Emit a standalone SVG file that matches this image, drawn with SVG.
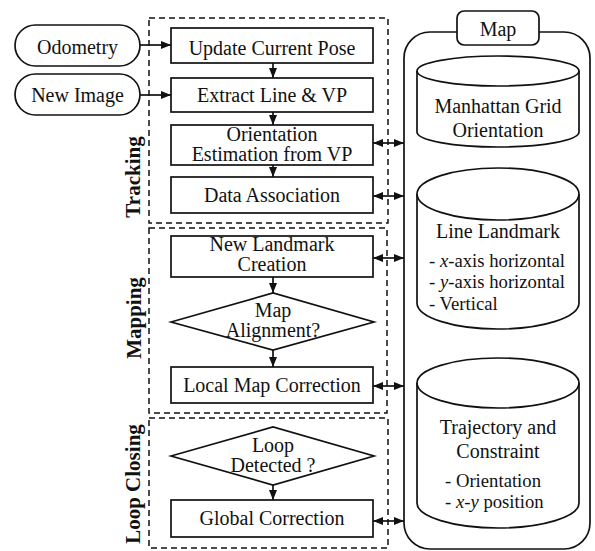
<svg xmlns="http://www.w3.org/2000/svg" width="595" height="551" viewBox="0 0 595 551">
<defs>
<style>
text{font-family:"Liberation Serif","Times New Roman",serif;font-size:20px;fill:#111}
.c{text-anchor:middle}
.lab{font-weight:bold;font-size:21px;text-anchor:middle}
.li{font-size:18.7px}
.sh{fill:#fff;stroke:#111;stroke-width:1.7}
.dash{fill:none;stroke:#111;stroke-width:1.5;stroke-dasharray:6 4}
.ln{fill:none;stroke:#111;stroke-width:1.7}
</style>
<marker id="ah" markerUnits="userSpaceOnUse" markerWidth="10" markerHeight="8" refX="10" refY="4" orient="auto-start-reverse">
<path d="M0,0 L10,4 L0,8 Z" fill="#111"/>
</marker>
</defs>
<rect width="595" height="551" fill="#fff"/>

<g id="groups">
<rect class="dash" x="149" y="18" width="239" height="205"/>
<rect class="dash" x="149" y="228" width="238" height="185"/>
<rect class="dash" x="149" y="418" width="239" height="130"/>
<text class="lab" transform="translate(140,177) rotate(-90)">Tracking</text>
<text class="lab" transform="translate(141,318) rotate(-90)">Mapping</text>
<text class="lab" transform="translate(140,484) rotate(-90)">Loop Closing</text>
</g>

<g id="map">
<rect class="sh" x="404" y="32" width="186" height="517" rx="26"/>
<rect class="sh" x="457" y="11" width="82" height="34" rx="7"/>
<text class="c" x="498" y="36">Map</text>
</g>

<g id="odometry">
<rect class="sh" x="15" y="25" width="125" height="41" rx="20.5"/>
<text class="c" x="77.5" y="54">Odometry</text>
</g>
<g id="newimage">
<rect class="sh" x="15" y="74" width="125" height="41" rx="20.5"/>
<text class="c" x="77.5" y="102">New Image</text>
</g>

<g id="update">
<rect class="sh" x="171" y="28" width="202" height="35"/>
<text class="c" x="272" y="55">Update Current Pose</text>
</g>
<g id="extract">
<rect class="sh" x="171" y="78" width="202" height="34"/>
<text class="c" x="272" y="102">Extract Line &amp; VP</text>
</g>
<g id="orientation">
<rect class="sh" x="171" y="125" width="202" height="40"/>
<text class="c" x="272" y="141">Orientation</text>
<text class="c" x="272" y="161">Estimation from VP</text>
</g>
<g id="dataassoc">
<rect class="sh" x="171" y="177" width="202" height="36"/>
<text class="c" x="272" y="202">Data Association</text>
</g>
<g id="newlandmark">
<rect class="sh" x="171" y="236" width="202" height="41"/>
<text class="c" x="272" y="251">New Landmark</text>
<text class="c" x="272" y="271">Creation</text>
</g>
<g id="mapalign">
<polygon class="sh" points="171,322 273,293 374,322 273,350"/>
<text class="c" x="273" y="317">Map</text>
<text class="c" x="273" y="337">Alignment?</text>
</g>
<g id="localmap">
<rect class="sh" x="171" y="367" width="202" height="36"/>
<text class="c" x="272" y="392">Local Map Correction</text>
</g>
<g id="loopdetected">
<polygon class="sh" points="171,456 273,427 374,456 273,485"/>
<text class="c" x="273" y="452">Loop</text>
<text class="c" x="273" y="472">Detected ?</text>
</g>
<g id="global">
<rect class="sh" x="171" y="500" width="202" height="37"/>
<text class="c" x="272" y="525">Global Correction</text>
</g>

<g id="cyl-manhattan">
<path class="sh" d="M417,71 A81,15 0 0 1 579,71 V132 A81,15 0 0 1 417,132 Z"/>
<path class="ln" d="M417,71 A81,15 0 0 0 579,71"/>
<text class="c" x="498" y="113">Manhattan Grid</text>
<text class="c" x="498" y="137">Orientation</text>
</g>
<g id="cyl-line">
<path class="sh" d="M417,194 A81,26 0 0 1 579,194 V303 A81,26 0 0 1 417,303 Z"/>
<path class="ln" d="M417,194 A81,26 0 0 0 579,194"/>
<text class="c" x="498" y="238">Line Landmark</text>
<text class="li" x="429" y="267">- <tspan font-style="italic">x</tspan>-axis horizontal</text>
<text class="li" x="429" y="288">- <tspan font-style="italic">y</tspan>-axis horizontal</text>
<text class="li" x="429" y="310">- Vertical</text>
</g>
<g id="cyl-traj">
<path class="sh" d="M417,383 A81,25 0 0 1 579,383 V503 A81,25 0 0 1 417,503 Z"/>
<path class="ln" d="M417,383 A81,25 0 0 0 579,383"/>
<text class="c" x="498" y="434">Trajectory and</text>
<text class="c" x="498" y="458">Constraint</text>
<text class="li" x="445" y="487">- Orientation</text>
<text class="li" x="445" y="508">- <tspan font-style="italic">x</tspan>-<tspan font-style="italic">y</tspan> position</text>
</g>

<g id="connectors" class="ln">
<line x1="140" y1="45" x2="171" y2="45" marker-end="url(#ah)"/>
<line x1="140" y1="95" x2="171" y2="95" marker-end="url(#ah)"/>
<line x1="273" y1="63" x2="273" y2="78" marker-end="url(#ah)"/>
<line x1="273" y1="112" x2="273" y2="125" marker-end="url(#ah)"/>
<line x1="273" y1="165" x2="273" y2="177" marker-end="url(#ah)"/>
<line x1="273" y1="277" x2="273" y2="293" marker-end="url(#ah)"/>
<line x1="273" y1="350" x2="273" y2="367" marker-end="url(#ah)"/>
<line x1="273" y1="485" x2="273" y2="500" marker-end="url(#ah)"/>
<line x1="373" y1="143" x2="404" y2="143" marker-start="url(#ah)" marker-end="url(#ah)"/>
<line x1="373" y1="196" x2="404" y2="196" marker-start="url(#ah)" marker-end="url(#ah)"/>
<line x1="373" y1="258" x2="404" y2="258" marker-start="url(#ah)" marker-end="url(#ah)"/>
<line x1="373" y1="386" x2="404" y2="386" marker-start="url(#ah)" marker-end="url(#ah)"/>
<line x1="373" y1="521" x2="404" y2="521" marker-start="url(#ah)" marker-end="url(#ah)"/>
</g>
</svg>
